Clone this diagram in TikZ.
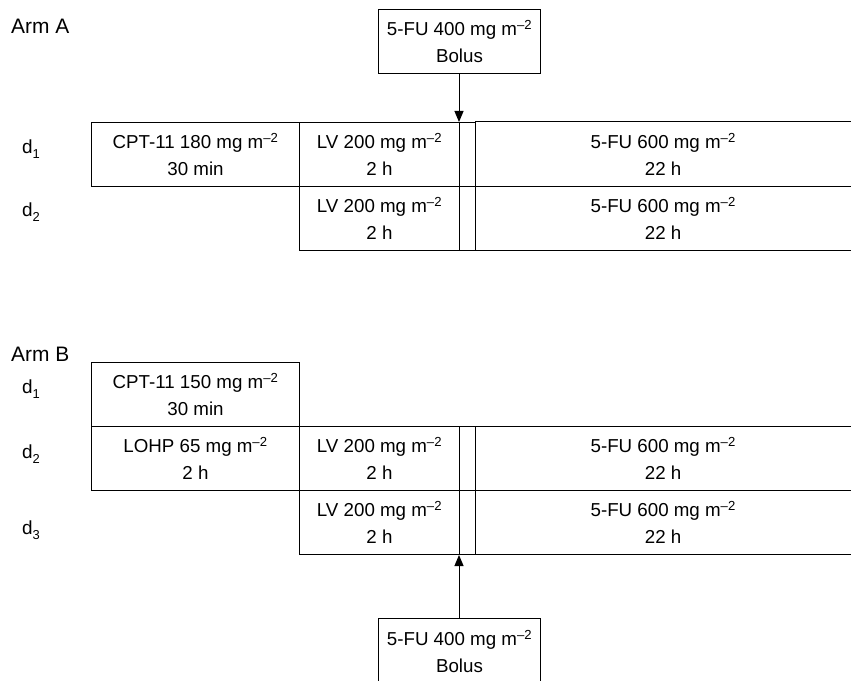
\documentclass[tikz,border=0pt]{standalone}
\usepackage{fontspec}
\setmainfont{Liberation Sans}
\usetikzlibrary{arrows.meta}
\newcommand{\msq}{m\textsuperscript{\textendash 2}}
\newcommand{\dsub}[1]{d\raisebox{-0.55ex}{\fontsize{13}{13}\selectfont #1}}
\begin{document}
\begin{tikzpicture}[x=1bp,y=-1bp,
  every node/.style={font=\fontsize{18.8}{27}\selectfont},
  cell/.style={draw, line width=1bp, anchor=north west, inner sep=0pt, align=center, minimum height=64bp},
  opencell/.style={anchor=north west, inner sep=0pt, align=center, minimum height=64bp, minimum width=376bp},
  lbl/.style={anchor=west, inner sep=0pt, font=\fontsize{19}{20}\selectfont},
  arm/.style={anchor=west, inner sep=0pt, font=\fontsize{21}{22}\selectfont},
  arr/.style={line width=1bp, -{Triangle[width=9bp,length=11bp]}}]
\useasboundingbox (0,0) rectangle (851,681);

% Arm A
\node[arm] (armA) at (11,26) {Arm A};
\node[lbl] (aD1) at (22,149) {\dsub{1}};
\node[lbl] (aD2) at (22,212) {\dsub{2}};
\node[cell, minimum width=162bp] (bolusA) at (378,9) {5-FU 400 mg \msq\\Bolus};

\node[cell, minimum width=208bp] (cptA) at (91,122) {CPT-11 180 mg \msq\\30 min};
\node[cell, minimum width=160bp] (lvA1) at (299,122) {LV 200 mg \msq\\2 h};
\node[cell, minimum width=16bp] (stA1) at (459,122) {};
\node[opencell] (fuA1) at (475,122) {5-FU 600 mg \msq\\22 h};
\node[cell, minimum width=160bp] (lvA2) at (299,186) {LV 200 mg \msq\\2 h};
\node[cell, minimum width=16bp] (stA2) at (459,186) {};
\node[opencell] (fuA2) at (475,186) {5-FU 600 mg \msq\\22 h};
\draw[line width=1bp] (fuA1.north west) -- (fuA1.north east);
\draw[line width=1bp] (fuA1.south west) -- (fuA1.south east);
\draw[line width=1bp] (fuA2.south west) -- (fuA2.south east);
\draw[arr] (stA1.north west |- bolusA.south) -- (stA1.north west);

% Arm B
\node[arm] (armB) at (11,354) {Arm B};
\node[lbl] (bD1) at (22,389) {\dsub{1}};
\node[lbl] (bD2) at (22,454) {\dsub{2}};
\node[lbl] (bD3) at (22,530) {\dsub{3}};

\node[cell, minimum width=208bp] (cptB) at (91,362) {CPT-11 150 mg \msq\\30 min};
\node[cell, minimum width=208bp] (lohp) at (91,426) {LOHP 65 mg \msq\\2 h};
\node[cell, minimum width=160bp] (lvB2) at (299,426) {LV 200 mg \msq\\2 h};
\node[cell, minimum width=16bp] (stB2) at (459,426) {};
\node[opencell] (fuB2) at (475,426) {5-FU 600 mg \msq\\22 h};
\node[cell, minimum width=160bp] (lvB3) at (299,490) {LV 200 mg \msq\\2 h};
\node[cell, minimum width=16bp] (stB3) at (459,490) {};
\node[opencell] (fuB3) at (475,490) {5-FU 600 mg \msq\\22 h};
\draw[line width=1bp] (fuB2.north west) -- (fuB2.north east);
\draw[line width=1bp] (fuB2.south west) -- (fuB2.south east);
\draw[line width=1bp] (fuB3.south west) -- (fuB3.south east);

\node[cell, minimum width=162bp, minimum height=66bp] (bolusB) at (378,618) {5-FU 400 mg \msq\\Bolus};
\draw[arr] (stB3.south west |- bolusB.north) -- (stB3.south west);
\end{tikzpicture}
\end{document}
